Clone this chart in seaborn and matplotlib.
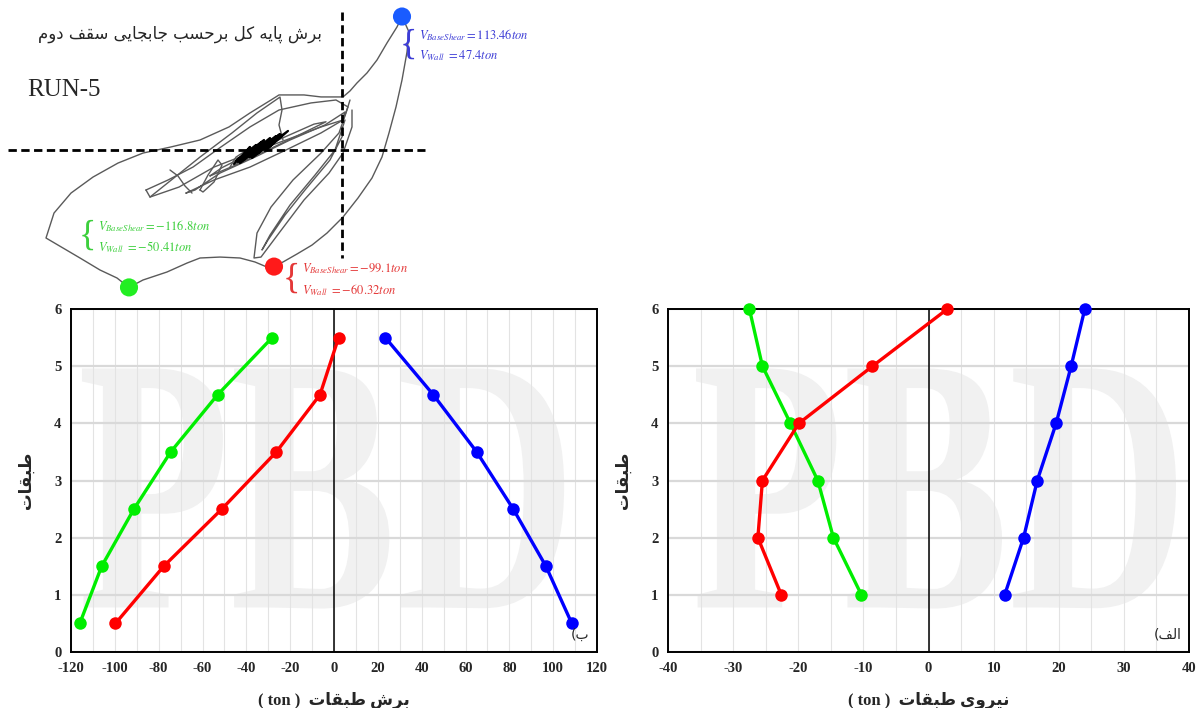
import numpy as np
import pandas as pd
import matplotlib
matplotlib.use("Agg")
import matplotlib.pyplot as plt
import seaborn as sns
from matplotlib.textpath import TextPath
from matplotlib.patches import PathPatch
from matplotlib.font_manager import FontProperties
from matplotlib.transforms import Affine2D
from matplotlib.ticker import MultipleLocator

# ---------------- data ----------------
# story shear (ton) at mid-storey heights
floors_shear = [0.5, 1.5, 2.5, 3.5, 4.5, 5.5]
shear_blue = [108.5, 96.7, 81.8, 65.1, 45.3, 23.4]
shear_red = [-99.7, -77.7, -51.2, -26.3, -6.4, 2.1]
shear_green = [-116.0, -106.0, -91.3, -74.5, -53.1, -28.2]

# story force (ton) at floor levels
floors_force = [1, 2, 3, 4, 5, 6]
force_blue = [11.7, 14.6, 16.7, 19.6, 21.9, 24.0]
force_red = [-22.6, -26.2, -25.5, -19.9, -8.6, 2.9]
force_green = [-10.3, -14.6, -17.0, -21.2, -25.5, -27.5]

shear_ticks = list(range(-120, 121, 20))
force_ticks = list(range(-40, 41, 10))
floor_ticks = [0, 1, 2, 3, 4, 5, 6]

# hysteresis: (roof displacement, base shear ton)
hyst_outer = [(30, 113.46), (27.5, 104.6), (22.5, 91.0), (17.5, 76.5), (12.5, 65.5), (7.5, 57.0),
              (4, 50.2), (0.5, 45.1), (-10.5, 45.1), (-19, 46.8), (-31.5, 46.8), (-35.5, 42.5),
              (-46, 31.5), (-56.5, 19.6), (-71, 8.5), (-85.5, 2.6), (-99.5, -2.6), (-112, -11.1),
              (-124.5, -23.0), (-135.5, -36.6), (-144, -53.6), (-148, -74.8), (-139.5, -83.3),
              (-131, -91.8), (-121, -102.0), (-112.5, -108.8), (-106.5, -116.8), (-99.5, -110.5),
              (-87.5, -103.7), (-77.5, -96.1), (-71, -91.8), (-61, -91.0), (-51, -91.8),
              (-43.5, -95.2), (-37.5, -99.5), (-34, -99.1), (-29.5, -95.2), (-22.5, -88.4),
              (-15, -80.8), (-7.5, -70.6), (0.5, -57.0), (8, -40.8), (15, -23.8), (20, -5.9),
              (23.5, 14.5), (27, 36.6), (30, 59.5), (32.5, 83.3), (33.5, 100.3), (30, 113.46)]
hyst_tall = [(5, 34.0), (5, 19.6), (0.5, -2.6), (-6.5, -19.6), (-19, -42.5), (-31.5, -70.6),
             (-40.5, -91.0), (-44, -91.8), (-42.5, -70.6), (-35.5, -48.5), (-24.5, -25.5),
             (-10.5, -2.6), (-1.5, 14.5), (2, 31.5), (4, 42.5)]
hyst_tall2 = [(1.5, 25.5), (-3.5, 0), (-13.5, -21.3), (-26, -46.8), (-36, -72.3), (-40, -85),
              (-37, -76.5), (-28.5, -55.3), (-18.5, -34), (-6, -8.5), (0.5, 12.8)]
hyst_mid = [(-98, -34), (-87, -25.5), (-74.5, -14.5), (-60.5, 2.6), (-46, 19.6), (-31.5, 34),
            (-15.5, 40), (-3, 42.5), (3, 36.6), (0.5, 25.5), (-10.5, 19.6), (-28, 8.5),
            (-46, -2.6), (-64, -14.5), (-81.5, -31.5), (-96, -40), (-98, -34)]
hyst_mid2 = [(-96, -40), (-83.5, -23), (-71, -6), (-55, 14.5), (-42.5, 31.5), (-31, 45),
             (-30, 34), (-31.5, 21.3), (-29.5, 8.5)]
hyst_low = [(-78, -36.6), (-64, -25.5), (-46, -14.5), (-28, 0), (-10.5, 14.5), (0.5, 25.5),
            (1.5, 32.3), (-8.5, 21.3), (-26, 8.5), (-43.5, -6), (-61, -19.6), (-73.5, -34),
            (-78, -36.6)]
hyst_inner = [(-66, -22), (-52, -12), (-36, 1), (-20, 14), (-8, 24), (-14, 22), (-30, 10),
              (-46, -3), (-60, -15), (-66, -22)]
hyst_small1 = [(-71, -34), (-67, -21.3), (-62, -8.5), (-60, -12.8), (-64, -27.2), (-69.5, -35.7), (-71, -34)]
hyst_small2 = [(-56, -14.5), (-53, -6), (-47.5, 0), (-49, -6.8), (-54, -13.6)]
hyst_tail = [(-86, -17), (-82, -22.1), (-78.5, -30.6), (-75, -36.6)]
hyst_core = [(-54, -11.9), (-46, 2.6), (-52, -10.2), (-40, 6.8), (-49, -7.7), (-36, 10.2),
             (-46, -6), (-31, 13.6), (-42, -2.6), (-27, 16.2), (-38, 0), (-30, 12.8),
             (-45, -6.8), (-33, 11.9), (-51, -11.1), (-39, 8.5), (-53, -9.4), (-43, 4.3)]

peak_disp = [30, -34, -106.5]
peak_shear = [113.46, -99.1, -116.8]
peak_colors = ["#1a5cff", "#ff1a1a", "#22ee22"]
peak_text = [("113.46", "47.4"), ("-99.1", "-60.32"), ("-116.8", "-50.41")]

# ---------------- Persian shaping ----------------
FORMS = {
    'ا': ('\uFE8D', '\uFE8E', None, None),
    'ب': ('\uFE8F', '\uFE90', '\uFE91', '\uFE92'),
    'پ': ('\uFB56', '\uFB57', '\uFB58', '\uFB59'),
    'ت': ('\uFE95', '\uFE96', '\uFE97', '\uFE98'),
    'ج': ('\uFE9D', '\uFE9E', '\uFE9F', '\uFEA0'),
    'ح': ('\uFEA1', '\uFEA2', '\uFEA3', '\uFEA4'),
    'د': ('\uFEA9', '\uFEAA', None, None),
    'ر': ('\uFEAD', '\uFEAE', None, None),
    'س': ('\uFEB1', '\uFEB2', '\uFEB3', '\uFEB4'),
    'ش': ('\uFEB5', '\uFEB6', '\uFEB7', '\uFEB8'),
    'ط': ('\uFEC1', '\uFEC2', '\uFEC3', '\uFEC4'),
    'ف': ('\uFED1', '\uFED2', '\uFED3', '\uFED4'),
    'ق': ('\uFED5', '\uFED6', '\uFED7', '\uFED8'),
    'ک': ('\uFB8E', '\uFB8F', '\uFB90', '\uFB91'),
    'ل': ('\uFEDD', '\uFEDE', '\uFEDF', '\uFEE0'),
    'م': ('\uFEE1', '\uFEE2', '\uFEE3', '\uFEE4'),
    'ن': ('\uFEE5', '\uFEE6', '\uFEE7', '\uFEE8'),
    'ه': ('\uFEE9', '\uFEEA', '\uFEEB', '\uFEEC'),
    'و': ('\uFEED', '\uFEEE', None, None),
    'ی': ('\uFBFC', '\uFBFD', '\uFBFE', '\uFBFF'),
}


def fa(text):
    out = []
    for i, c in enumerate(text):
        if c not in FORMS:
            out.append(c)
            continue
        f = FORMS[c]
        prev = text[i - 1] if i > 0 else None
        nxt = text[i + 1] if i + 1 < len(text) else None
        jp = prev in FORMS and FORMS[prev][2] is not None
        jn = nxt in FORMS and f[2] is not None
        if jp and jn:
            g = f[3]
        elif jp:
            g = f[1]
        elif jn:
            g = f[2]
        else:
            g = f[0]
        out.append(g)
    return ''.join(reversed(out))


# ---------------- style ----------------
sns.set_style("white")
plt.rcParams['font.family'] = ['Liberation Serif', 'DejaVu Sans']
plt.rcParams['mathtext.fontset'] = 'stix'
plt.rcParams['axes.unicode_minus'] = False

W, H = 1197, 708
fig = plt.figure(figsize=(W / 100, H / 100), dpi=100)


def fx(px):
    return px / W


def fy(py):
    return 1 - py / H


def watermark(ax, x0, x1, y0, y1):
    tp = TextPath((0, 0), 'PBD', size=100,
                  prop=FontProperties(family='Liberation Serif', weight='bold'))
    ext = tp.get_extents()
    tr = (Affine2D().translate(-ext.x0, -ext.y0)
          .scale((x1 - x0) / ext.width, (y1 - y0) / ext.height)
          .translate(x0, y0) + ax.transData)
    ax.add_patch(PathPatch(tp, transform=tr, fc='#f1f1f1', ec='none', zorder=0.2))


def style_axes(ax, xlim, xticks, minor, xlabel):
    ax.set_xlim(*xlim)
    ax.set_ylim(0, 6)
    ax.set_xticks(xticks)
    ax.set_yticks(floor_ticks)
    ax.xaxis.set_minor_locator(MultipleLocator(minor))
    ax.set_axisbelow(True)
    ax.grid(axis='y', which='major', color='#d9d9d9', lw=1.6)
    ax.grid(axis='x', which='both', color='#e3e3e3', lw=0.8)
    ax.tick_params(which='both', length=0, pad=7, labelsize=10.5)
    for lab in ax.get_xticklabels() + ax.get_yticklabels():
        lab.set_fontweight('bold')
    for s in ax.spines.values():
        s.set_visible(True)
        s.set_color('black')
        s.set_linewidth(1.4)
    ax.axvline(0, color='black', lw=1.1, zorder=1.5)
    ax.set_xlabel('( ton )  ' + fa(xlabel), fontsize=12, fontweight='bold', labelpad=12)
    ax.set_ylabel(fa('طبقات'), fontsize=12, fontweight='bold', labelpad=14)


# ---------------- left: story shear ----------------
axL = fig.add_axes([fx(71), fy(652), fx(526), 343 / H])
for vals, col in [(shear_green, '#00ee00'), (shear_red, '#ff0000'), (shear_blue, '#0000ff')]:
    df = pd.DataFrame({'v': vals, 'f': floors_shear})
    sns.lineplot(data=df, x='v', y='f', sort=False, estimator=None, color=col, lw=2.4,
                 marker='o', markersize=9, markeredgewidth=0, ax=axL, zorder=3)
watermark(axL, -115, 105, 0.76, 4.96)
style_axes(axL, (-120, 120), shear_ticks, 10, 'برش طبقات')
axL.text(0.985, 0.03, '(' + fa('ب'), transform=axL.transAxes, ha='right', va='bottom',
         fontsize=10, family=['DejaVu Sans'])

# ---------------- right: story force ----------------
axR = fig.add_axes([fx(668), fy(652), fx(521), 343 / H])
for vals, col in [(force_green, '#00ee00'), (force_red, '#ff0000'), (force_blue, '#0000ff')]:
    df = pd.DataFrame({'v': vals, 'f': floors_force})
    sns.lineplot(data=df, x='v', y='f', sort=False, estimator=None, color=col, lw=2.4,
                 marker='o', markersize=9, markeredgewidth=0, ax=axR, zorder=3, clip_on=False)
watermark(axR, -35.7, 38, 0.76, 4.96)
style_axes(axR, (-40, 40), force_ticks, 5, 'نیروی طبقات')
axR.text(0.985, 0.03, '(' + fa('الف'), transform=axR.transAxes, ha='right', va='bottom',
         fontsize=10, family=['DejaVu Sans'])

# ---------------- top-left: hysteresis ----------------
axH = fig.add_axes([0, fy(300), fx(560), 300 / H])
axH.set_xlim(-171, 109)
axH.set_ylim(-127.5, 127.5)
axH.axis('off')
for strand in [hyst_outer, hyst_tall, hyst_tall2, hyst_mid, hyst_mid2, hyst_low, hyst_inner,
               hyst_small1, hyst_small2, hyst_tail]:
    d = np.array(strand)
    sns.lineplot(x=d[:, 0], y=d[:, 1], sort=False, estimator=None, color='#5a5a5a',
                 lw=1.0, ax=axH)
d = np.array(hyst_core)
sns.lineplot(x=d[:, 0], y=d[:, 1], sort=False, estimator=None, color='black', lw=1.6, ax=axH)
axH.plot([-167, 41.5], [0, 0], color='black', lw=2.0, dashes=(3, 1.6))
axH.plot([0, 0], [117, -92], color='black', lw=2.0, dashes=(3, 1.6))
sns.scatterplot(x=peak_disp, y=peak_shear, hue=[0, 1, 2], palette=peak_colors, s=170,
                edgecolor='none', legend=False, ax=axH, zorder=5, clip_on=False)

ann_pos = [(411, 45), (294, 279), (90, 236)]
for (bx, by), col, (vb, vw) in zip(ann_pos, ['#3c3cd6', '#e43838', '#3ccf3c'], peak_text):
    fig.text(fx(bx + 6), fy(by), '{', color=col, fontsize=26, ha='right', va='center',
             family=['Liberation Serif'])
    fig.text(fx(bx + 8), fy(by - 10), r'$V_{BaseShear}=' + vb + r'ton$', color=col,
             fontsize=9, ha='left', va='center')
    fig.text(fx(bx + 8), fy(by + 11), r'$V_{Wall}\ =' + vw + r'ton$', color=col,
             fontsize=9, ha='left', va='center')

fig.text(fx(180), fy(34), fa('برش پایه کل برحسب جابجایی سقف دوم'), fontsize=12,
         ha='center', va='center', family=['DejaVu Sans'])
fig.text(fx(27), fy(90), 'RUN-5', fontsize=18, ha='left', va='center',
         family=['Liberation Serif'])

fig.savefig('out.png', dpi=100)
